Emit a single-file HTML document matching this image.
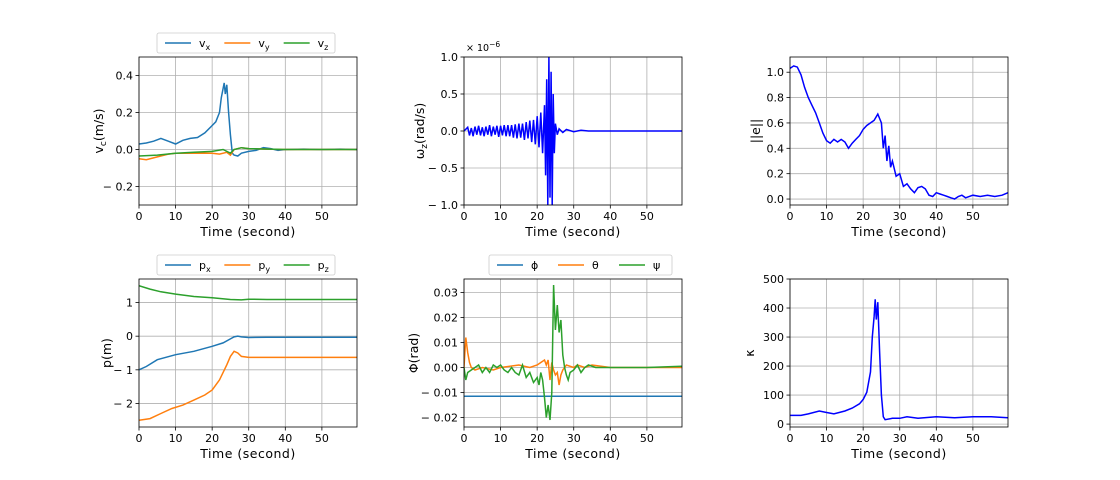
<!DOCTYPE html>
<html><head><meta charset="utf-8"><style>
body{margin:0;background:#fff}
svg{display:block;font-family:"DejaVu Sans","Liberation Sans",sans-serif}
</style></head><body>
<svg id="fig" width="1120" height="480"></svg>
<script>
// ---- data ----
const vxT=[0,2,4,6,8,10,12,14,16,18,20,21,22,22.5,23,23.3,23.6,24,24.5,25,25.5,26,27,28,30,32,34,36,38,40,45,50,55,59.6];
const vxV=[0.03,0.035,0.045,0.06,0.045,0.03,0.05,0.06,0.065,0.09,0.13,0.15,0.2,0.28,0.33,0.36,0.3,0.35,0.2,0.08,-0.02,-0.03,-0.035,-0.02,-0.01,-0.005,0.01,0.005,-0.005,0,0.002,0,0.002,0];
const vyT=[0,2,5,8,10,15,20,22,24,25,26,28,30,35,40,59.6];
const vyV=[-0.05,-0.055,-0.04,-0.025,-0.02,-0.02,-0.02,-0.025,-0.015,-0.03,0,0.01,0.005,0.002,0,0];
const vzT=[0,5,10,15,20,23,25,26,28,30,40,59.6];
const vzV=[-0.035,-0.03,-0.02,-0.015,-0.01,0,-0.02,0,0.01,0.005,0,0];
const wzT=[0,1,1.5,2,2.5,3,3.5,4,4.5,5,5.5,6,6.5,7,7.5,8,8.5,9,9.5,10,10.5,11,11.5,12,12.5,13,13.5,14,14.5,15,15.5,16,16.5,17,17.5,18,18.5,19,19.5,20,20.5,21,21.5,22,22.3,22.6,22.9,23.2,23.5,23.8,24.1,24.4,24.7,25,25.5,26,27,28,30,32,34,35,40,59.6];
const wzV=[0,0.05,-0.06,0.04,-0.07,0.06,-0.05,0.07,-0.06,0.05,-0.07,0.06,-0.05,0.08,-0.07,0.06,-0.05,0.07,-0.08,0.07,-0.06,0.08,-0.07,0.08,-0.07,0.08,-0.09,0.09,-0.1,0.1,-0.09,0.1,-0.12,0.12,-0.1,0.14,-0.15,0.15,-0.18,0.2,-0.22,0.25,-0.3,0.35,-0.6,0.7,-1.0,1.0,-0.9,0.8,-1.0,0.5,-0.3,0.1,-0.05,0.03,-0.02,0.02,-0.01,0.01,0,0,0,0];
const eT=[0,1,2,3,4,5,6,7,8,9,10,11,12,13,14,15,16,17,18,19,20,21,22,23,24,25,25.5,26,26.5,27,27.5,28,29,30,31,32,33,34,35,36,37,38,39,40,41,42,43,44,45,46,47,48,50,52,54,56,58,59.6];
const eV=[1.03,1.05,1.04,0.98,0.88,0.8,0.74,0.68,0.6,0.52,0.46,0.44,0.47,0.45,0.47,0.45,0.4,0.44,0.47,0.5,0.55,0.58,0.6,0.62,0.67,0.6,0.4,0.5,0.3,0.42,0.25,0.3,0.18,0.2,0.1,0.12,0.08,0.05,0.09,0.1,0.08,0.03,0.02,0.05,0.04,0.03,0.02,0.01,0.0,0.02,0.03,0.01,0.03,0.02,0.03,0.02,0.03,0.05];
const pxT=[0,2,5,10,15,20,23,25,26,27,28,30,35,59.6];
const pxV=[-1,-0.9,-0.7,-0.55,-0.45,-0.3,-0.2,-0.08,-0.02,0,-0.02,-0.04,-0.03,-0.03];
const pyT=[0,3,6,9,12,15,18,20,22,24,25,26,27,28,30,35,59.6];
const pyV=[-2.5,-2.45,-2.3,-2.15,-2.05,-1.9,-1.75,-1.6,-1.3,-0.85,-0.6,-0.45,-0.5,-0.6,-0.63,-0.63,-0.63];
const pzT=[0,3,6,10,15,20,25,28,30,35,59.6];
const pzV=[1.5,1.4,1.32,1.25,1.18,1.14,1.09,1.08,1.1,1.09,1.09];
const phT=[0,59.6];
const phV=[-0.0115,-0.0115];
const thT=[0,0.5,1,1.5,2,3,5,8,10,15,18,20,21,22,22.5,23,23.5,24,24.5,25,25.5,26,26.5,27,28,30,31,33,35,40,59.6];
const thV=[0,0.012,0.006,0.002,0,-0.001,0,-0.001,0,0.001,0,0.001,0.002,0.003,0.001,0.003,-0.005,0.002,-0.001,-0.003,-0.002,-0.007,-0.003,-0.001,0.001,0,0.001,0,0.001,0,0];
const psT=[0,0.5,1,2,3,4,5,6,7,8,9,10,11,12,13,14,15,16,17,18,19,20,20.5,21,21.5,22,22.5,23,23.5,24,24.5,25,25.5,26,26.5,27,27.5,28,28.5,29,30,31,32,33,34,36,40,50,59.6];
const psV=[0,-0.005,-0.002,-0.001,0,0.001,-0.002,0,-0.002,0.001,0,0.001,-0.001,-0.002,0,-0.002,-0.003,0.001,-0.004,-0.002,-0.006,-0.004,-0.007,-0.002,-0.005,-0.012,-0.02,-0.015,-0.021,-0.01,0.033,0.015,0.025,0.014,0.019,0.005,0,-0.003,-0.005,-0.002,-0.001,0.001,-0.002,0,0.001,0,0,0,0.0005];
const kT=[0,3,5,8,10,12,15,17,19,20,21,22,22.5,23,23.3,23.6,24,24.5,25,25.5,26,28,30,32,35,40,45,50,55,59.6];
const kV=[30,30,35,45,40,35,45,55,70,85,110,180,300,370,430,360,420,250,100,25,15,20,20,25,20,25,22,25,25,22];
const xTicks=[0,10,20,30,40,50];
const C1='#1f77b4',C2='#ff7f0e',C3='#2ca02c',CB='#0000ff';
const svg=document.getElementById('fig');
const NS='http://www.w3.org/2000/svg';
function el(t,a,p){const e=document.createElementNS(NS,t);for(const k in a)e.setAttribute(k,a[k]);(p||svg).appendChild(e);return e;}
function panel(o){
  const g=el('g',{});
  
  
  const sx=v=>o.x+(v-0)/(59.6)*o.w;
  const sy=v=>o.y+o.h-(v-o.ymin)/(o.ymax-o.ymin)*o.h;
  xTicks.forEach(t=>{el('line',{x1:sx(t),x2:sx(t),y1:o.y,y2:o.y+o.h,stroke:'#b0b0b0','stroke-width':0.8},g);
    el('line',{x1:sx(t),x2:sx(t),y1:o.y+o.h,y2:o.y+o.h+3.5,stroke:'#000','stroke-width':0.8},g);
    const tx=el('text',{x:sx(t),y:o.y+o.h+15,'font-size':11,'text-anchor':'middle'},g);tx.textContent=t;});
  o.yt.forEach((t,i)=>{el('line',{x1:o.x,x2:o.x+o.w,y1:sy(t),y2:sy(t),stroke:'#b0b0b0','stroke-width':0.8},g);
    el('line',{x1:o.x-3.5,x2:o.x,y1:sy(t),y2:sy(t),stroke:'#000','stroke-width':0.8},g);
    const tx=el('text',{x:o.x-6,y:sy(t)+4,'font-size':11,'text-anchor':'end'},g);tx.textContent=o.yl[i];});
  const cp='cp'+o.name;const d=el('clipPath',{id:cp},g);el('rect',{x:o.x,y:o.y,width:o.w,height:o.h},d);
  o.series.forEach(s=>{const pts=s.t.map((t,i)=>sx(t).toFixed(1)+','+sy(s.v[i]).toFixed(1)).join(' ');
    const pl=el('polyline',{points:pts,fill:'none',stroke:s.c,'stroke-width':1.5,'clip-path':'url(#'+cp+')'},g);
    
    });
  el('rect',{x:o.x,y:o.y,width:o.w,height:o.h,fill:'none',stroke:'#000','stroke-width':0.8},g);
  const xl=el('text',{x:o.x+o.w/2,y:o.y+o.h+31,'font-size':12.5,'text-anchor':'middle','letter-spacing':'0.5'},g);xl.textContent='Time (second)';
  
  const yl=el('text',{transform:`translate(${o.x-o.ylo},${o.y+o.h/2}) rotate(-90)`,'font-size':12.5,'text-anchor':'middle'},g);yl.innerHTML=o.ylab;
  
  if(o.leg){const lg=el('g',{},g);
    el('rect',{x:o.leg.x,y:o.leg.y,width:o.leg.w,height:20,rx:2,fill:'#fff',stroke:'#ccc','stroke-width':0.8},lg);
    o.series.forEach((s,i)=>{const lx=o.leg.x+8+i*o.leg.w/3;
      el('line',{x1:lx,x2:lx+26,y1:o.leg.y+10,y2:o.leg.y+10,stroke:s.c,'stroke-width':1.5},lg);
      const t=el('text',{x:lx+34,y:o.leg.y+14,'font-size':11},lg);t.innerHTML=s.lab;});}
}
panel({name:'vc-panel',x:139,y:57,w:218,h:148,ymin:-0.3,ymax:0.5,yt:[-0.2,0,0.2,0.4],yl:['− 0.2','0.0','0.2','0.4'],ylo:36,
  ylab:'v<tspan font-size="9" dy="3">c</tspan><tspan dy="-3">(m/s)</tspan>',leg:{x:157,y:33,w:178},
  series:[{t:vxT,v:vxV,c:C1,n:'vx-line',lab:'v<tspan font-size="8" dy="3">x</tspan>'},{t:vyT,v:vyV,c:C2,n:'vy-line',lab:'v<tspan font-size="8" dy="3">y</tspan>'},{t:vzT,v:vzV,c:C3,n:'vz-line',lab:'v<tspan font-size="8" dy="3">z</tspan>'}]});
panel({name:'wz-panel',x:464,y:57,w:218,h:148,ymin:-1,ymax:1,yt:[-1,-0.5,0,0.5,1],yl:['− 1.0','− 0.5','0.0','0.5','1.0'],ylo:40,
  ylab:'ω<tspan font-size="9" dy="3">z</tspan><tspan dy="-3">(rad/s)</tspan>',
  series:[{t:wzT,v:wzV,c:CB,n:'wz-line'}]});
const sc=el('text',{x:466,y:51,'font-size':9.5});sc.innerHTML='× 10<tspan font-size="7.5" dy="-4">−6</tspan>';

panel({name:'error-panel',x:790,y:57,w:218,h:148,ymin:-0.047,ymax:1.12,yt:[0,0.2,0.4,0.6,0.8,1.0],yl:['0.0','0.2','0.4','0.6','0.8','1.0'],ylo:30,
  ylab:'||e||',series:[{t:eT,v:eV,c:CB,n:'error-line'}]});
panel({name:'p-panel',x:139,y:279,w:218,h:148,ymin:-2.7,ymax:1.7,yt:[-2,-1,0,1],yl:['− 2','− 1','0','1'],ylo:28,
  ylab:'p(m)',leg:{x:157,y:255,w:178},
  series:[{t:pxT,v:pxV,c:C1,n:'px-line',lab:'p<tspan font-size="8" dy="3">x</tspan>'},{t:pyT,v:pyV,c:C2,n:'py-line',lab:'p<tspan font-size="8" dy="3">y</tspan>'},{t:pzT,v:pzV,c:C3,n:'pz-line',lab:'p<tspan font-size="8" dy="3">z</tspan>'}]});
panel({name:'attitude-panel',x:464,y:279,w:218,h:148,ymin:-0.0238,ymax:0.0354,yt:[-0.02,-0.01,0,0.01,0.02,0.03],yl:['− 0.02','− 0.01','0.00','0.01','0.02','0.03'],ylo:46,
  ylab:'Φ(rad)',leg:{x:489,y:255,w:183},
  series:[{t:phT,v:phV,c:C1,n:'phi-line',lab:'ϕ'},{t:thT,v:thV,c:C2,n:'theta-line',lab:'θ'},{t:psT,v:psV,c:C3,n:'psi-line',lab:'ψ'}]});
panel({name:'kappa-panel',x:790,y:279,w:218,h:148,ymin:-10,ymax:500,yt:[0,100,200,300,400,500],yl:['0','100','200','300','400','500'],ylo:36,
  ylab:'κ',series:[{t:kT,v:kV,c:CB,n:'kappa-line'}]});
</script>
</body></html>
